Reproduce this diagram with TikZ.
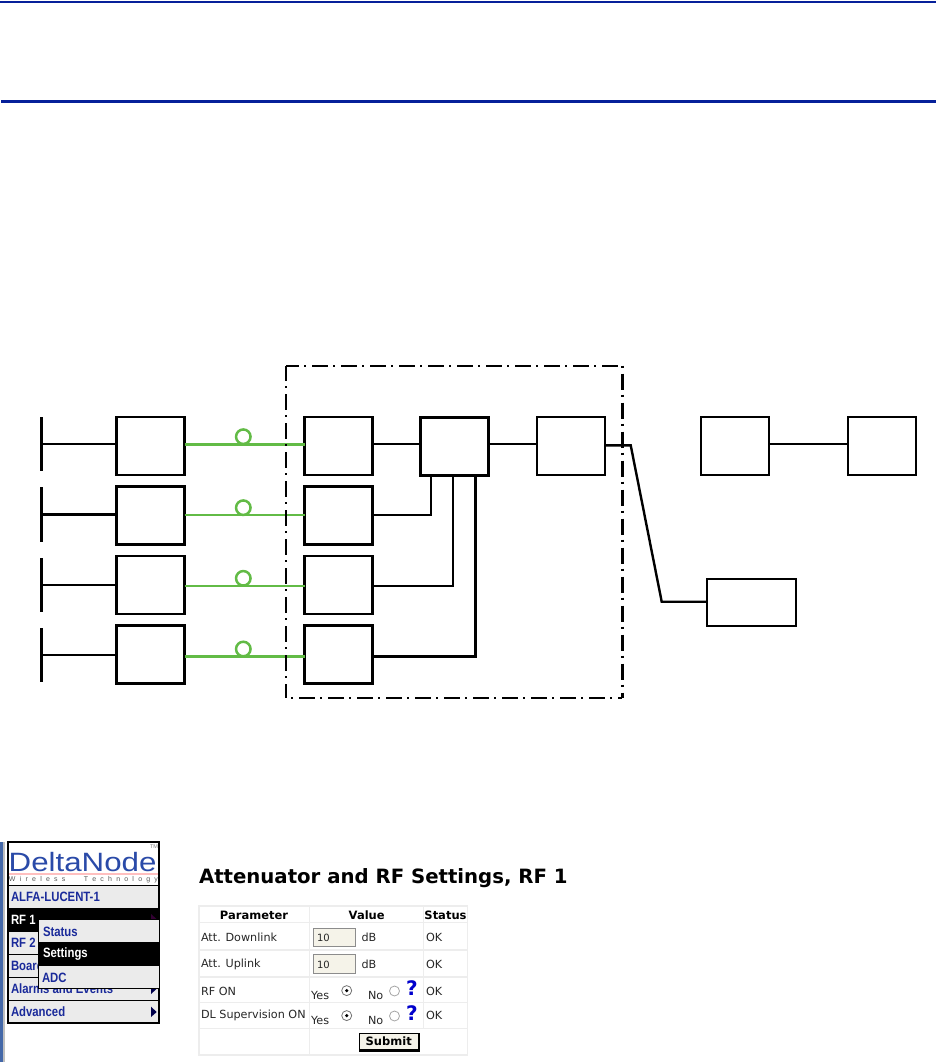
\documentclass[tikz,border=0pt]{standalone}
\usepackage{graphicx}
\usepackage{fontspec}
\setmainfont{DejaVu Sans}
\newfontfamily\menufont{Liberation Sans}
\definecolor{hblue}{HTML}{06209A}
\definecolor{rfgreen}{HTML}{62BB46}
\definecolor{mblue}{HTML}{1A2A9A}
\definecolor{mgray}{HTML}{EBEBEB}
\definecolor{tgrid}{HTML}{EDEDED}
\definecolor{fieldbg}{HTML}{F5F3E9}
\definecolor{barblue}{HTML}{4468A8}
\definecolor{logoblue}{HTML}{2A4AA8}
\newcommand{\mt}[1]{\scalebox{.84}[1]{#1}}
\tikzset{
 every node/.style={outer sep=0pt},
 unitbox/.style={draw=black,line width=#1,fill=white,minimum width=68pt,minimum height=58pt,inner sep=0pt,anchor=north west},
 unitbox/.default=2.5pt,
 wire/.style={line width=2pt,black},
 gwire/.style={line width=3pt,rfgreen},
 bar/.style={line width=3pt,black},
 loopc/.style={draw=rfgreen,line width=2.5pt,circle,minimum size=14.5pt,inner sep=0pt},
 encl/.style={black,line width=#1,dash pattern=on 2pt off 6pt on 16pt off 5pt},
 menuitem/.style={font=\menufont\bfseries\fontsize{13.5}{13.5}\selectfont,text=mblue,anchor=west,inner sep=0pt},
 cell/.style={font=\fontsize{11.2}{12}\selectfont,anchor=west,inner sep=0pt,text=black!85},
 head/.style={font=\bfseries\fontsize{11.5}{12}\selectfont,inner sep=0pt,text=black},
 field/.style={draw=black!45,line width=1pt,fill=fieldbg,minimum width=41.5pt,minimum height=18.5pt,inner sep=0pt,anchor=north west},
 radio/.style={draw=black!55,line width=.8pt,circle,minimum size=10pt,inner sep=0pt,fill=white},
 help/.style={font=\bfseries\fontsize{20}{20}\selectfont,text=blue!80!black,inner sep=0pt},
}
\begin{document}
\begin{tikzpicture}[x=1pt,y=-1pt]
\useasboundingbox (0,0) rectangle (936,1062);
% header rules
\draw[hblue,line width=2pt] (0,2) -- (936,2);
\draw[hblue,line width=3pt] (1,101.5) -- (936,101.5);
% boxes
\node[unitbox] (a1) at (116.5,417) {};
\node[unitbox] (a2) at (116.5,486.3) {};
\node[unitbox] (a3) at (116.5,556) {};
\node[unitbox] (a4) at (116.5,625.3) {};
\node[unitbox] (b1) at (304.5,417) {};
\node[unitbox] (b2) at (304.5,486.3) {};
\node[unitbox] (b3) at (304.5,556) {};
\node[unitbox] (b4) at (304.5,625.3) {};
\node[unitbox=2.8pt] (c) at (420.5,417.3) {};
\node[unitbox=2.2pt] (d) at (537,417) {};
\node[unitbox=2.2pt] (e) at (701,417) {};
\node[unitbox] (f) at (848,417) {};
\node[draw=black,line width=2pt,fill=white,minimum width=89.3pt,minimum height=47pt,inner sep=0pt,anchor=north west] (g) at (707,578.7) {};
% antenna bars
\coordinate (t1) at (41.7,417); \coordinate (u1) at (41.7,471);
\coordinate (t2) at (41.7,487); \coordinate (u2) at (41.7,542);
\coordinate (t3) at (41.7,558); \coordinate (u3) at (41.7,612);
\coordinate (t4) at (41.7,628); \coordinate (u4) at (41.7,682);
\foreach \i in {1,2,3,4}{\draw[bar] (t\i) -- (u\i);}
\draw[wire] (41.7,443.7) -- (a1.west |- 0,443.7);
\draw[line width=3pt] (41.7,514.3) -- (a2.west |- 0,514.3);
\draw[wire] (41.7,584.7) -- (a3.west |- 0,584.7);
\draw[wire] (41.7,655) -- (a4.west |- 0,655);
% green links
\draw[gwire] (a1.east |- 0,444.3) -- (b1.west |- 0,444.3);
\draw[rfgreen,line width=2pt] (a2.east |- 0,515) -- (b2.west |- 0,515);
\draw[rfgreen,line width=2pt] (a3.east |- 0,585.7) -- (b3.west |- 0,585.7);
\draw[gwire] (a4.east |- 0,656.3) -- (b4.west |- 0,656.3);
\node[loopc] (l1) at (243.3,436.7) {};
\node[loopc] (l2) at (243.3,507.7) {};
\node[loopc] (l3) at (243.3,578.3) {};
\node[loopc] (l4) at (243.3,649) {};
% enclosure
\draw[encl=2.2pt,dash phase=9pt] (286,366) -- (286,698);
\draw[encl=2.2pt,dash phase=24pt] (286,698) -- (622,698);
\draw[encl=2.2pt,dash phase=11pt] (286,366) -- (622,366);
\draw[encl=3pt] (622,365.5) -- (622,698);
% wires
\draw[wire] (b1.east |- 0,444) -- (c.west |- 0,444);
\draw[wire] (c.east |- 0,444) -- (d.west |- 0,444);
\draw[wire] (e.east |- 0,444) -- (f.west |- 0,444);
\draw[line width=2.5pt,black] (b2.east |- 0,515) -- (431,515) -- (431,475);
\draw[wire] (b3.east |- 0,586) -- (453,586) -- (453,475);
\draw[line width=3pt,black] (b4.east |- 0,656) -- (475.5,656) -- (475.5,475);
\draw[line width=2.4pt,black,line join=miter] (d.east |- 0,445.3) -- (630.7,445.3) -- (661.7,601.7) -- (g.west |- 0,601.7);
% screenshot left bar
\fill[barblue] (0,842) rectangle (3,1062);
\fill[black!25] (3,842) rectangle (4.5,1062);
% logo
\node[draw=black,line width=1.5pt,fill=white,minimum width=151pt,minimum height=43.5pt,inner sep=0pt,anchor=north west] (logo) at (8,842) {};
\node[inner sep=0pt,anchor=base west,text=logoblue,font=\menufont\fontsize{26.5}{26.5}\selectfont] (logot) at (8.7,871.7) {\scalebox{1.18}[1]{DeltaNode}};
\node[inner sep=0pt,anchor=north east,text=black!50,font=\menufont\fontsize{5.5}{5.5}\selectfont] (tm) at (158,844.5) {TM};
\fill[red!25] (9,872.5) rectangle (158,875);
\node[inner sep=0pt,anchor=west,text=black!65,font=\menufont\fontsize{7}{7}\selectfont] (wt) at (9,880) {\hbox to 149pt{W\hfill i\hfill r\hfill e\hfill l\hfill e\hfill s\hfill s\hfill\hskip 10pt\hfill T\hfill e\hfill c\hfill h\hfill n\hfill o\hfill l\hfill o\hfill g\hfill y}};
% menu rows
\newcommand{\mrow}[5]{\node[draw=black,line width=1.4pt,fill=#3,minimum width=151pt,minimum height=#5,inner sep=0pt,anchor=north west] (#1) at (8,#2) {};\node[menuitem] at (11,#2+11.5) {\mt{#4}};}
\mrow{m1}{885.5}{mgray}{ALFA-LUCENT-1}{23pt}
\mrow{m2}{908.5}{black}{\textcolor{white}{RF 1}}{23pt}
\mrow{m3}{931.5}{mgray}{RF 2}{23pt}
\mrow{m4}{954.5}{mgray}{Board}{23pt}
\mrow{m5}{977.5}{mgray}{Alarms and Events}{23pt}
\mrow{m6}{1000.5}{mgray}{Advanced}{22.5pt}
\fill[black!70!blue] (151,1006.7) -- (156.7,1012) -- (151,1017) -- cycle;
\fill[black!70!blue] (151,983.5) -- (156.7,988.8) -- (151,994) -- cycle;
\fill[black!60!violet] (151,914) -- (156.5,919) -- (151,919) -- cycle;
% submenu
\node[fill=mgray,minimum width=120.5pt,minimum height=69pt,inner sep=0pt,anchor=north west] (sub) at (38.7,919.3) {};
\draw[black,line width=1.2pt] (sub.north east) -- (sub.north west) -- (sub.south west) -- (sub.south east);
\fill[black] (38.7,942) rectangle (159.2,966);
\node[menuitem] (s1) at (43,931.5) {\mt{Status}};
\node[menuitem,text=white] (s2) at (43,954.5) {\mt{Settings}};
\node[menuitem] (s3) at (42,977.5) {\mt{ADC}};
% title
\node[inner sep=0pt,anchor=west,font=\bfseries\fontsize{19.7}{20}\selectfont] (title) at (199,878) {Attenuator and RF Settings, RF 1};
% table grid
\draw[tgrid,line width=1.5pt] (199,906) rectangle (467.5,1055);
\foreach \yy in {922.5,950,977,1002.5,1028.5}{\draw[tgrid,line width=1.5pt] (199,\yy) -- (467.5,\yy);}
\draw[tgrid,line width=1.2pt] (309.5,906) -- (309.5,1055);
\draw[tgrid,line width=1.2pt] (423.5,906) -- (423.5,1028.5);
\node[head] (h1) at (254,915) {Parameter};
\node[head] (h2) at (366.7,915) {Value};
\node[head] (h3) at (445.5,915) {Status};
\node[cell] (r1) at (201,937) {Att. Downlink};
\node[cell] (r2) at (201,964) {Att. Uplink};
\node[cell] (r3) at (201,991) {RF ON};
\node[cell] (r4) at (201,1015.7) {DL Supervision ON};
\node[field] (f1) at (313.5,928) {};
\node[cell,font=\fontsize{10}{12}\selectfont] (v1) at (317,937.5) {10};
\node[cell] (u1t) at (361.5,937) {dB};
\node[field] (f2) at (313.5,954.7) {};
\node[cell,font=\fontsize{10}{12}\selectfont] (v2) at (317,964.5) {10};
\node[cell] (u2t) at (361.5,964) {dB};
\foreach \yy in {937,964,991,1015.7}{\node[cell] at (426,\yy) {OK};}
% radio rows
\node[cell] (y1) at (311,995) {Yes};
\node[cell] (n1) at (368,995) {No};
\node[radio] (ry1) at (346.7,990.6) {};
\fill[black] (ry1) circle (1.8pt);
\node[radio,draw=black!35] (rn1) at (394.5,991) {};
\node[help] (q1) at (412,988.5) {?};
\node[cell] (y2) at (311,1020) {Yes};
\node[cell] (n2) at (368,1020) {No};
\node[radio] (ry2) at (346.7,1015.6) {};
\fill[black] (ry2) circle (1.8pt);
\node[radio,draw=black!35] (rn2) at (394.5,1016) {};
\node[help] (q2) at (412,1013.5) {?};
% submit
\fill[black] (359,1032.5) rectangle (419.5,1052);
\node[fill=fieldbg,minimum width=57.5pt,minimum height=15.5pt,inner sep=0pt,anchor=north west,font=\bfseries\fontsize{11.5}{12}\selectfont] (sb) at (360,1033.5) {Submit};
\end{tikzpicture}
\end{document}
